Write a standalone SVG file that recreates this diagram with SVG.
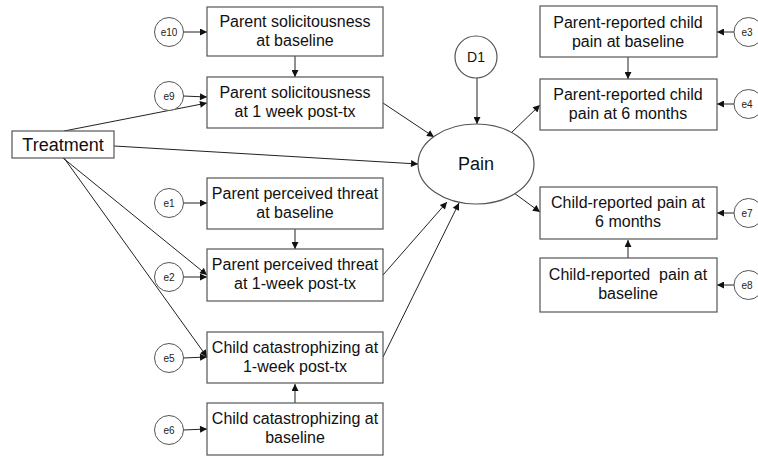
<svg xmlns="http://www.w3.org/2000/svg" width="758" height="457" viewBox="0 0 758 457">
<defs>
<marker id="ah" viewBox="0 0 10 10" refX="10" refY="5" markerWidth="9" markerHeight="7" orient="auto" markerUnits="userSpaceOnUse"><path d="M0,0 L10,5 L0,10 z" fill="#111"/></marker>
<style>
.box{fill:#fff;stroke:#555;stroke-width:1.2}
.err{fill:#fff;stroke:#555;stroke-width:1}
.t{font-family:"Liberation Sans",Arial,sans-serif;font-size:16px;fill:#111;text-anchor:middle}
.e{font-family:"Liberation Sans",Arial,sans-serif;font-size:10px;fill:#222;text-anchor:middle}
.c line{stroke:#222;stroke-width:1;marker-end:url(#ah)}
</style>
</defs>
<rect width="758" height="457" fill="#fff"/>
<g class="c" id="connectors">
<line x1="183" y1="32" x2="207" y2="32"/>
<line x1="295" y1="56" x2="295" y2="77"/>
<line x1="183" y1="96" x2="207" y2="97"/>
<line x1="64" y1="131" x2="207" y2="103"/>
<line x1="114" y1="146" x2="418" y2="164"/>
<line x1="383" y1="103" x2="434" y2="137"/>
<line x1="477" y1="78" x2="477" y2="124"/>
<line x1="511" y1="133" x2="540" y2="105"/>
<line x1="514" y1="193" x2="540" y2="212"/>
<line x1="628" y1="258" x2="628" y2="240"/>
<line x1="628" y1="57" x2="628" y2="79"/>
<line x1="734" y1="32" x2="717" y2="32"/>
<line x1="734" y1="104" x2="717" y2="104"/>
<line x1="734" y1="213" x2="717" y2="213"/>
<line x1="734" y1="285" x2="717" y2="285"/>
<line x1="383" y1="275" x2="447" y2="202"/>
<line x1="383" y1="357" x2="459" y2="203"/>
<line x1="63" y1="158" x2="207" y2="275"/>
<line x1="64" y1="158" x2="207" y2="357"/>
<line x1="295" y1="229" x2="295" y2="249"/>
<line x1="295" y1="403" x2="295" y2="384"/>
<line x1="183" y1="203" x2="207" y2="203"/>
<line x1="183" y1="277" x2="207" y2="277"/>
<line x1="183" y1="358" x2="207" y2="357"/>
<line x1="183" y1="430" x2="207" y2="429"/>
</g>
<g id="treatment"><rect class="box" x="12" y="131" width="102" height="27"/><text class="t" x="63" y="151" style="font-size:18px">Treatment</text></g>
<g id="ps_base"><rect class="box" x="207" y="7" width="176" height="49"/><text class="t" x="295" y="27">Parent solicitousness</text><text class="t" x="295" y="46">at baseline</text></g>
<g id="ps_1wk"><rect class="box" x="207" y="77" width="176" height="51"/><text class="t" x="295" y="98">Parent solicitousness</text><text class="t" x="295" y="117">at 1 week post-tx</text></g>
<g id="pt_base"><rect class="box" x="207" y="178" width="176" height="51"/><text class="t" x="295" y="199">Parent perceived threat</text><text class="t" x="295" y="218">at baseline</text></g>
<g id="pt_1wk"><rect class="box" x="207" y="249" width="176" height="52"/><text class="t" x="295" y="270">Parent perceived threat</text><text class="t" x="295" y="289">at 1-week post-tx</text></g>
<g id="cc_1wk"><rect class="box" x="207" y="332" width="176" height="51"/><text class="t" x="295" y="353">Child catastrophizing at</text><text class="t" x="295" y="372">1-week post-tx</text></g>
<g id="cc_base"><rect class="box" x="207" y="403" width="176" height="52"/><text class="t" x="295" y="424">Child catastrophizing at</text><text class="t" x="295" y="443">baseline</text></g>
<g id="pr_base"><rect class="box" x="540" y="6" width="177" height="51"/><text class="t" x="628" y="28">Parent-reported child</text><text class="t" x="628" y="47">pain at baseline</text></g>
<g id="pr_6m"><rect class="box" x="540" y="79" width="177" height="51"/><text class="t" x="628" y="100">Parent-reported child</text><text class="t" x="628" y="119">pain at 6 months</text></g>
<g id="cr_6m"><rect class="box" x="540" y="187" width="177" height="52"/><text class="t" x="628" y="208">Child-reported pain at</text><text class="t" x="628" y="227">6 months</text></g>
<g id="cr_base"><rect class="box" x="540" y="258" width="177" height="54"/><text class="t" x="628" y="280" xml:space="preserve">Child-reported  pain at</text><text class="t" x="628" y="299">baseline</text></g>
<g id="pain"><ellipse class="box" cx="476" cy="164" rx="58" ry="40"/><text class="t" x="476" y="170" style="font-size:18px">Pain</text></g>
<g id="d1"><circle class="box" cx="476" cy="57" r="21"/><text class="t" x="476" y="62" style="font-size:14px">D1</text></g>
<g id="e10"><circle class="err" cx="169" cy="32" r="14.5"/><text class="e" x="169" y="36">e10</text></g>
<g id="e9"><circle class="err" cx="169" cy="96" r="14.5"/><text class="e" x="169" y="100">e9</text></g>
<g id="e1"><circle class="err" cx="169" cy="203" r="14.5"/><text class="e" x="169" y="207">e1</text></g>
<g id="e2"><circle class="err" cx="169" cy="277" r="14.5"/><text class="e" x="169" y="281">e2</text></g>
<g id="e5"><circle class="err" cx="169" cy="358" r="14.5"/><text class="e" x="169" y="362">e5</text></g>
<g id="e6"><circle class="err" cx="169" cy="430" r="14.5"/><text class="e" x="169" y="434">e6</text></g>
<g id="e3"><circle class="err" cx="748.5" cy="32" r="14.5"/><text class="e" x="747" y="36">e3</text></g>
<g id="e4"><circle class="err" cx="748.5" cy="104" r="14.5"/><text class="e" x="747" y="108">e4</text></g>
<g id="e7"><circle class="err" cx="748.5" cy="213" r="14.5"/><text class="e" x="747" y="217">e7</text></g>
<g id="e8"><circle class="err" cx="748.5" cy="285" r="14.5"/><text class="e" x="747" y="289">e8</text></g>
</svg>
